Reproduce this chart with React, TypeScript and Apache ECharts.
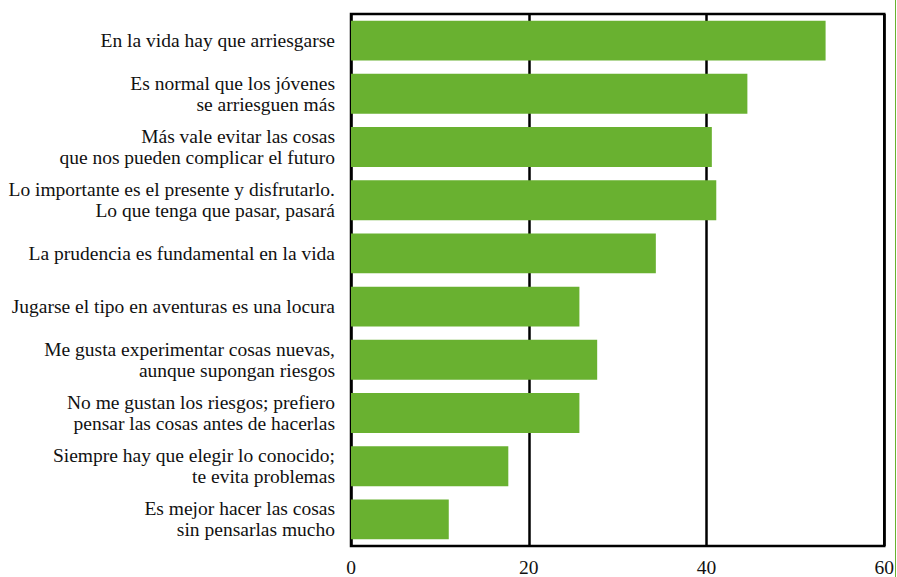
import React, { useEffect, useRef } from "react";
import * as echarts from "echarts";

const categories = [
  "En la vida hay que arriesgarse",
  "Es normal que los jóvenes\nse arriesguen más",
  "Más vale evitar las cosas\nque nos pueden complicar el futuro",
  "Lo importante es el presente y disfrutarlo.\nLo que tenga que pasar, pasará",
  "La prudencia es fundamental en la vida",
  "Jugarse el tipo en aventuras es una locura",
  "Me gusta experimentar cosas nuevas,\naunque supongan riesgos",
  "No me gustan los riesgos; prefiero\npensar las cosas antes de hacerlas",
  "Siempre hay que elegir lo conocido;\nte evita problemas",
  "Es mejor hacer las cosas\nsin pensarlas mucho",
];
const values = [53.4, 44.6, 40.6, 41.1, 34.3, 25.7, 27.7, 25.7, 17.7, 11.0];
const xTicks = [0, 20, 40, 60];

export default function App() {
  const ref = useRef<HTMLDivElement>(null);
  useEffect(() => {
    if (!ref.current) return;
    const chart = echarts.init(ref.current, null, { renderer: "svg" });
    const font = "Liberation Serif";
    chart.setOption({
      animation: false,
      backgroundColor: "#ffffff",
      textStyle: { fontFamily: font },
      grid: {
        left: 351,
        right: 11,
        top: 14,
        bottom: 26,
        show: true,
        borderColor: "#000",
        borderWidth: 2.5,
        backgroundColor: "transparent",
      },
      xAxis: {
        type: "value",
        min: xTicks[0],
        max: xTicks[xTicks.length - 1],
        interval: 20,
        axisLine: { show: false },
        axisTick: { show: false },
        splitLine: { show: true, lineStyle: { color: "#000", width: 2.5 } },
        axisLabel: {
          color: "#111",
          fontFamily: font,
          fontSize: 19.5,
          margin: 11,
        },
      },
      yAxis: {
        type: "category",
        inverse: true,
        data: categories,
        axisLine: { show: false },
        axisTick: { show: false },
        axisLabel: {
          color: "#111",
          fontFamily: font,
          fontSize: 19.5,
          lineHeight: 21,
          margin: 16,
          align: "right",
        },
      },
      series: [
        {
          type: "bar",
          data: values,
          barCategoryGap: "25%",
          itemStyle: { color: "#69b130" },
        },
      ],
      graphic: [
        {
          type: "line",
          shape: { x1: 895.5, y1: 0, x2: 895.5, y2: 577 },
          style: { stroke: "#69b130", lineWidth: 1 },
        },
      ],
    });
    return () => chart.dispose();
  }, []);
  return <div ref={ref} style={{ width: 897, height: 577, position: "absolute", left: 0, top: 0 }} />;
}
